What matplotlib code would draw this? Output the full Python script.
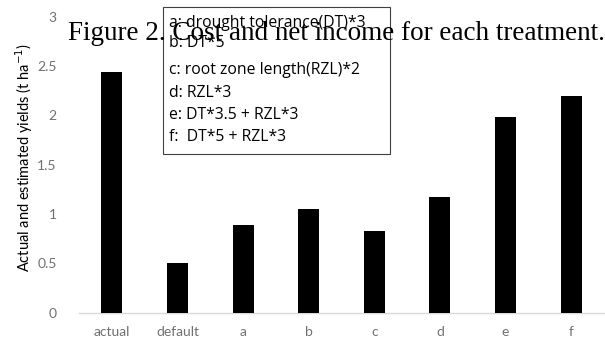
import matplotlib
matplotlib.use("Agg")
import matplotlib.pyplot as plt
from matplotlib.patches import Rectangle

# yields per treatment (t/ha)
treatments = ["actual", "default", "a", "b", "c", "d", "e", "f"]
yields = [2.44, 0.50, 0.89, 1.05, 0.83, 1.17, 1.98, 2.20]

yticks = [0, 0.5, 1, 1.5, 2, 2.5, 3]
ytick_labels = ["0", "0.5", "1", "1.5", "2", "2.5", "3"]

notes = [
    "a: drought tolerance(DT)*3",
    "b: DT*5",
    "c: root zone length(RZL)*2",
    "d: RZL*3",
    "e: DT*3.5 + RZL*3",
    "f:  DT*5 + RZL*3",
]
note_y = [23, 43, 70, 93, 115, 137]  # pixel rows of the note lines

W, H = 605, 338
fig = plt.figure(figsize=(W / 100, H / 100), dpi=100)
ax = fig.add_axes([79 / W, 1 - 312.5 / H, (604 - 79) / W, (312.5 - 17) / H])

sans = "Lato"
grey = "#707070"

x = range(len(treatments))
ax.bar(x, yields, width=0.32, color="black", zorder=3)

ax.set_xlim(-0.5, len(treatments) - 0.5)
ax.set_ylim(0, 3)
ax.set_yticks(yticks)
ax.set_yticklabels(ytick_labels, family=sans, fontsize=10, color=grey)
ax.set_xticks(list(x))
ax.set_xticklabels(treatments, family=sans, fontsize=10, color=grey)
ax.tick_params(axis="both", length=0)
ax.tick_params(axis="y", pad=16)
ax.tick_params(axis="x", pad=10)
for side in ["top", "right", "left"]:
    ax.spines[side].set_visible(False)
ax.spines["bottom"].set_color("#d9d9d9")
ax.spines["bottom"].set_linewidth(1.0)

fig.text(24 / W, 1 - 158 / H, r"Actual and estimated yields (t ha$^{-1}$)",
         family=sans, fontsize=10.5, rotation=90, ha="center", va="center",
         color="black", math_fontfamily="dejavusans")

# note box with treatment definitions
box = Rectangle((163 / W, 1 - 154 / H), (390 - 163) / W, (154 - 7) / H,
                transform=fig.transFigure, facecolor="white",
                edgecolor="#404040", linewidth=0.8, zorder=5)
fig.add_artist(box)
for txt, yy in zip(notes, note_y):
    fig.text(169 / W, 1 - yy / H, txt, family="Open Sans", fontsize=11.3,
             color="black", ha="left", va="center", zorder=6)

fig.text(68 / W, 1 - 33 / H, "Figure 2. Cost and net income for each treatment.",
         family="Liberation Serif", fontsize=19.5, color="black",
         ha="left", va="center", zorder=7)

fig.savefig("out.png", dpi=100, facecolor="white")
